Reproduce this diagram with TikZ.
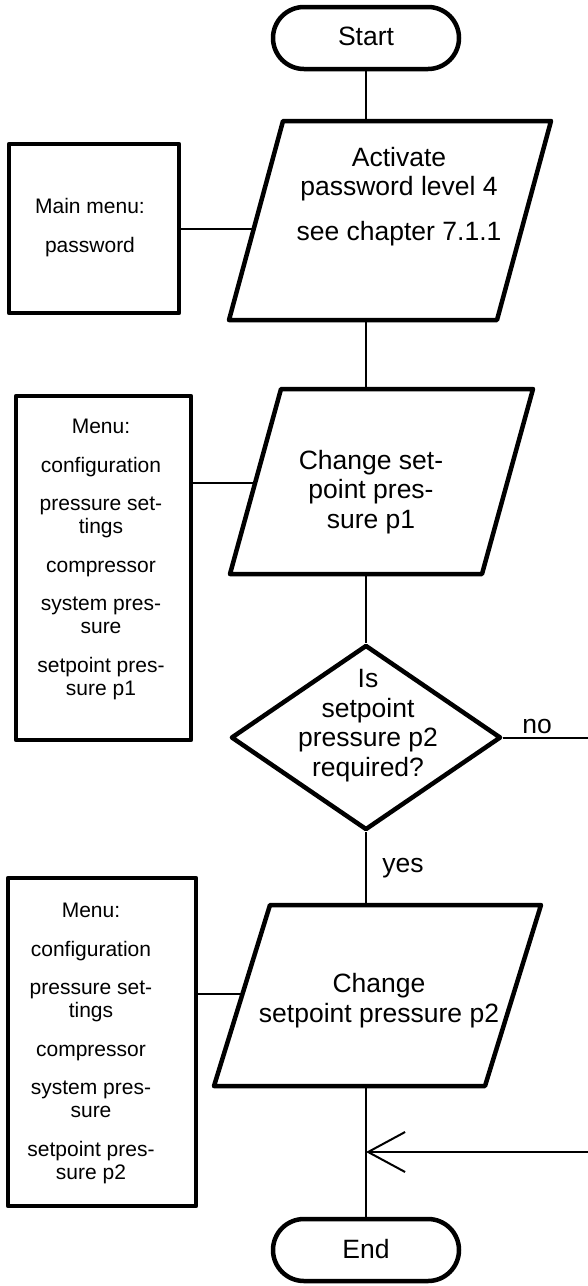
\documentclass[tikz,border=0pt]{standalone}
\usepackage{fontspec}
\setmainfont{Liberation Sans}
\usetikzlibrary{shapes.geometric,arrows.meta,calc}
\begin{document}
\begin{tikzpicture}[x=1pt,y=-1pt,
  shapeline/.style={line width=4.5pt, line join=round},
  conn/.style={line width=2pt},
  termbox/.style={shapeline, draw, rectangle, rounded corners=31pt, minimum width=186pt, minimum height=62pt, inner sep=0pt},
  menubox/.style={shapeline, draw, rectangle, inner sep=0pt},
  bbox/.style={rectangle, inner sep=0pt, outer sep=0pt},
  decbox/.style={shapeline, draw, diamond, inner sep=0pt, minimum width=270pt, minimum height=185pt},
  maintext/.style={font=\fontsize{26.5}{29.5}\selectfont, align=center, anchor=base, inner sep=0pt},
  sidetext/.style={font=\fontsize{21}{23}\selectfont, align=center, anchor=base, inner sep=0pt},
]
\useasboundingbox (0,0) rectangle (588,1286);
\fill[white] (0,0) rectangle (588,1286);

% terminals
\node[termbox] (start) at (366,38) {};
\node[maintext] (starttext) at (366,45) {Start};
\node[termbox] (end) at (366,1250) {};
\node[maintext] (endtext) at (366,1258) {End};

% parallelogram 1
\node[bbox, minimum width=322pt, minimum height=199pt] (p1) at (390,220.5) {};
\draw[shapeline] ($(p1.north west)+(54,0)$) -- (p1.north east) -- ($(p1.south east)+(-54,0)$) -- (p1.south west) -- cycle;
\node[maintext] (p1text) at (399,240) {Activate\\password level 4\\[15pt]see chapter 7.1.1};

% parallelogram 2
\node[bbox, minimum width=303pt, minimum height=185pt] (p2) at (381.5,481.5) {};
\draw[shapeline] ($(p2.north west)+(51,0)$) -- (p2.north east) -- ($(p2.south east)+(-51,0)$) -- (p2.south west) -- cycle;
\node[maintext] (p2text) at (371,528) {Change set-\\point pres-\\sure p1};

% decision
\node[decbox] (dia) at (366,737.5) {};
\node[maintext] (diatext) at (368,776) {Is\\setpoint\\pressure p2\\required?};

% parallelogram 3
\node[bbox, minimum width=327pt, minimum height=181pt] (p3) at (377.5,995.5) {};
\draw[shapeline] ($(p3.north west)+(56,0)$) -- (p3.north east) -- ($(p3.south east)+(-56,0)$) -- (p3.south west) -- cycle;
\node[maintext] (p3text) at (379,1022) {Change\\setpoint pressure p2};

% menu boxes
\node[menubox, minimum width=170pt, minimum height=169pt] (b1) at (94,228.5) {};
\node[sidetext] (b1text) at (90,252) {Main menu:\\[16pt]password};
\node[menubox, minimum width=175pt, minimum height=344pt] (b2) at (103.5,568) {};
\node[sidetext] (b2text) at (101,695) {Menu:\\[15.5pt]configuration\\[15.5pt]pressure set-\\tings\\[15.5pt]compressor\\[15.5pt]system pres-\\sure\\[15.5pt]setpoint pres-\\sure p1};
\node[menubox, minimum width=188pt, minimum height=328pt] (b3) at (102,1042) {};
\node[sidetext] (b3text) at (91,1179) {Menu:\\[15.5pt]configuration\\[15.5pt]pressure set-\\tings\\[15.5pt]compressor\\[15.5pt]system pres-\\sure\\[15.5pt]setpoint pres-\\sure p2};

% main spine
\draw[conn] (start) -- (start.south |- p1.north);
\draw[conn] (start.south |- p1.south) -- (start.south |- p2.north);
\draw[conn] (dia.north |- p2.south) -- (dia.north);
\draw[conn] (dia.south) -- (dia.south |- p3.north);
\draw[conn] (end.north |- p3.south) -- (end.north);

% side connectors
\coordinate (p1l) at (253.8,228.5);
\draw[conn] (b1.east) -- (p1l);
\coordinate (p2l) at (255.1,483);
\draw[conn] (p2l -| b2.east) -- (p2l);
\coordinate (p3l) at (242.5,994);
\draw[conn] (p3l -| b3.east) -- (p3l);

% no branch
\coordinate (noend) at (588,737.5);
\draw[conn] (dia.east) -- (noend);
\node[maintext] (nolabel) at (537,733) {no};
\node[maintext] (yeslabel) at (403,872) {yes};
\coordinate (backstart) at (588,1152);
\draw[conn, -{Straight Barb[length=37pt,width=40pt,line width=2pt]}] (backstart) -- (backstart -| end.north);
\end{tikzpicture}
\end{document}
